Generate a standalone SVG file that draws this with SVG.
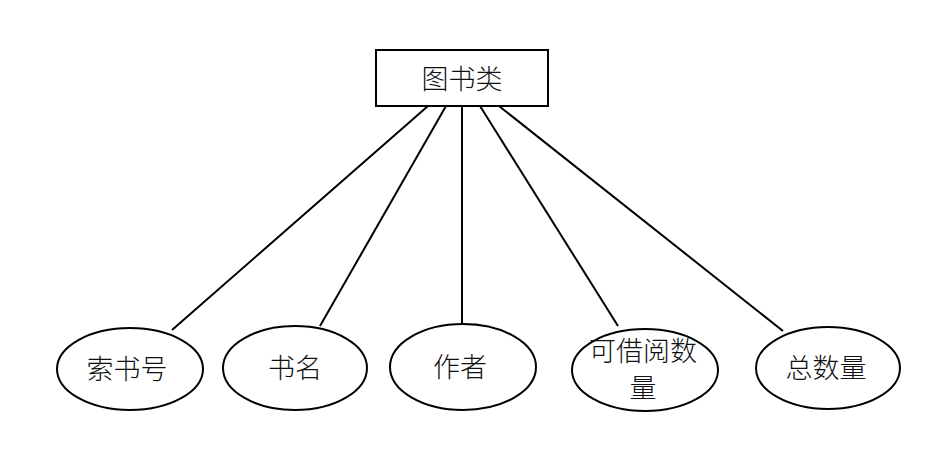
<svg xmlns="http://www.w3.org/2000/svg" width="935" height="462" viewBox="0 0 935 462">
<style>
.s{fill:#fff;stroke:#000;stroke-width:2}
.t{font-family:"Noto Sans CJK SC","Noto Sans",sans-serif;font-size:27px;font-weight:300;fill:#111;text-anchor:middle;dominant-baseline:central}
.c line{stroke:#000;stroke-width:2}
</style>
<rect width="935" height="462" fill="#fff"/>
<g class="c" id="connectors">
<line x1="428" y1="106" x2="172" y2="330"/>
<line x1="446" y1="106" x2="320" y2="326"/>
<line x1="462" y1="106" x2="462" y2="325"/>
<line x1="480" y1="106" x2="618" y2="326"/>
<line x1="499" y1="106" x2="783" y2="331"/>
</g>
<g id="n0"><rect class="s" x="376" y="50" width="172" height="56"/><text class="t" x="462" y="77">图书类</text></g>
<g id="n1"><ellipse class="s" cx="130" cy="369" rx="73" ry="41"/><text class="t" x="127" y="367">索书号</text></g>
<g id="n2"><ellipse class="s" cx="295" cy="368" rx="72" ry="42"/><text class="t" x="295" y="366">书名</text></g>
<g id="n3"><ellipse class="s" cx="463" cy="367" rx="73" ry="43"/><text class="t" x="460" y="365">作者</text></g>
<g id="n4"><ellipse class="s" cx="645" cy="370" rx="73" ry="41"/><text class="t" x="643" y="349">可借阅数</text><text class="t" x="643" y="386">量</text></g>
<g id="n5"><ellipse class="s" cx="828" cy="368" rx="72" ry="41"/><text class="t" x="826" y="366">总数量</text></g>
</svg>
